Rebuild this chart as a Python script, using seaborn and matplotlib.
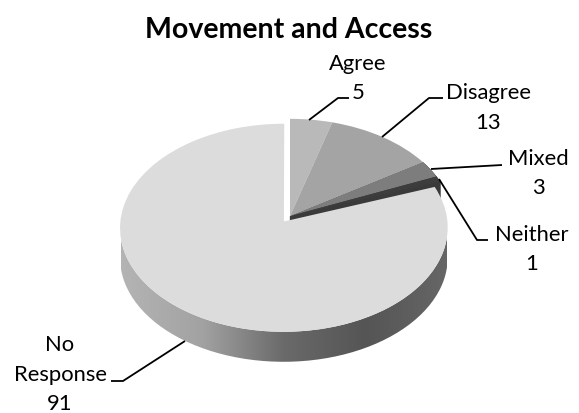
import numpy as np
import matplotlib
matplotlib.use('Agg')
import matplotlib.pyplot as plt
from matplotlib.patches import PathPatch
from matplotlib.path import Path
from matplotlib.transforms import Transform
import seaborn as sns

labels = ['Agree', 'Disagree', 'Mixed', 'Neither', 'No\nResponse']
values = [5, 13, 3, 1, 91]
colors = ['#b9b9b9', '#a4a4a4', '#7d7d7d', '#3d3d3d', '#dcdcdc']
explode = [0, 0, 0, 0, 0.065]
title = 'Movement and Access'

# pie centre and size on the canvas, in pixels
CX, CY, RX, RY, TILT, DEPTH = 290, 217, 163, 103, 0.06, 30

sns.set_theme(style='white')
plt.rcParams['font.family'] = ['Lato', 'DejaVu Sans']


class Tilt(Transform):
    # lays the flat unit pie down, the far edge looks a bit smaller
    input_dims = 2
    output_dims = 2

    def __init__(self, drop=0):
        super().__init__()
        self.drop = drop

    def transform_non_affine(self, xy):
        xy = np.asarray(xy, dtype=float)
        w = 1 + TILT * xy[:, 1]
        return np.column_stack([CX + RX * xy[:, 0] / w,
                                CY - RY * xy[:, 1] / w + self.drop])


fig = plt.figure(figsize=(5.79, 4.14), dpi=100)
ax = fig.add_axes([0, 0, 1, 1])

# dark cut faces of the slices that stay in place, seen through the gap
for drop in np.arange(0.5, 25, 0.5):
    under, _ = ax.pie(values, explode=explode, colors=['#3a3a3a'] * 5,
                      startangle=90, counterclock=False,
                      wedgeprops={'linewidth': 0.6, 'edgecolor': '#3a3a3a'})
    for w in under:
        w.set_transform(Tilt(drop) + ax.transData)
        w.set_zorder(1)
    under[0].set_visible(False)
    under[1].set_visible(False)
    under[4].set_visible(False)

wedges, _ = ax.pie(values, explode=explode, colors=colors, startangle=90,
                   counterclock=False, wedgeprops={'linewidth': 0})
for w in wedges:
    w.set_transform(Tilt() + ax.transData)
    w.set_zorder(3)

ax.set_xlim(0, 579)
ax.set_ylim(414, 0)
ax.set_aspect('auto')
ax.axis('off')

# rim of the big slice, shaded from left to right
main = wedges[4]
theta = np.radians(np.linspace(180, 360, 120))
rim = np.column_stack([main.center[0] + main.r * np.cos(theta),
                       main.center[1] + main.r * np.sin(theta)])
upper = Tilt().transform(rim)
lower = Tilt(DEPTH).transform(rim)
rim_path = Path(np.vstack([upper, lower[::-1], upper[:1]]))
rim_patch = PathPatch(rim_path, facecolor='none', edgecolor='none', transform=ax.transData)
ax.add_patch(rim_patch)
shade = sns.blend_palette(['#b4b4b4', '#a2a2a2', '#6a6a6a', '#555555', '#666666'], as_cmap=True)
img = ax.imshow(np.linspace(0, 1, 256)[None, :], cmap=shade, extent=(121, 447, 380, 180),
                aspect='auto', zorder=2)
img.set_clip_path(rim_patch)
ax.set_xlim(0, 579)
ax.set_ylim(414, 0)

ax.text(289, 30, title, ha='center', va='center', fontsize=20.5, fontweight='bold', color='black', zorder=5)

# data labels and their leader lines
label_spots = [(358, 64, 93), (488, 93, 123), (538, 159, 188), (532, 235, 264), (60, 345, 404)]
leaders = [[(309, 121), (338, 99), (349, 99)],
           [(382, 138), (429, 99), (443, 99)],
           [(431, 170), (502, 166)],
           [(439, 180), (477, 241), (488, 241)],
           [(185, 342), (123, 382), (111, 382)]]

for name, val, (x, y1, y2), pts in zip(labels, values, label_spots, leaders):
    parts = name.split('\n')
    for i, part in enumerate(parts):
        ax.text(x, y1 + i * 30, part, ha='center', va='center', fontsize=15.8, color='black', zorder=5)
    ax.text(x, y2, str(val), ha='center', va='center', fontsize=15.8, color='black', zorder=5)
    ax.plot(*zip(*pts), color='black', lw=1.3, zorder=4, solid_capstyle='butt')

fig.savefig('out.png', dpi=100)
